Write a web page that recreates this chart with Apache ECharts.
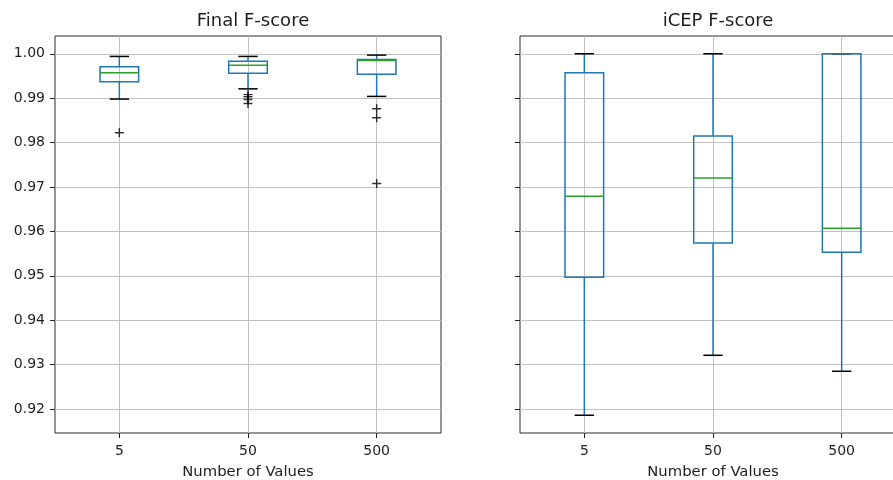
<!DOCTYPE html>
<html>
<head>
<meta charset="utf-8">
<script src="https://cdn.jsdelivr.net/npm/echarts@6/dist/echarts.min.js"></script>
<style>
  html, body { margin: 0; padding: 0; background: #fff; overflow: hidden; width: 893px; height: 480px; }
  /* canvas is a little wider than the page so the right panel runs off the edge */
  #chart { width: 910px; height: 480px; }
</style>
</head>
<body>
<div id="chart"></div>
<script>
// Categories on the x axis (number of values)
const categories = ['5', '50', '500'];

// Final F-score box statistics per category
const finalLow  = [0.9898, 0.9921, 0.9904];
const finalQ1   = [0.9937, 0.9956, 0.9954];
const finalMed  = [0.9957, 0.9974, 0.9985];
const finalQ3   = [0.9971, 0.9983, 0.9987];
const finalHigh = [0.9994, 0.9994, 0.9997];
// Final F-score outliers: [category index, value]
const finalOutliers = [
  [0, 0.9822],
  [1, 0.9908], [1, 0.9903], [1, 0.9897], [1, 0.9888],
  [2, 0.9876], [2, 0.9856], [2, 0.9708]
];

// iCEP F-score box statistics per category
const icepLow  = [0.9186, 0.9321, 0.9285];
const icepQ1   = [0.9497, 0.9574, 0.9553];
const icepMed  = [0.9679, 0.9720, 0.9607];
const icepQ3   = [0.9957, 0.9815, 1.0000];
const icepHigh = [1.0000, 1.0000, 1.0000];
const icepOutliers = [];

// Y tick values shared by both panels
const yTicks = [0.92, 0.93, 0.94, 0.95, 0.96, 0.97, 0.98, 0.99, 1.00];
const yMin = 0.9146, yMax = 1.004;

const FONT = 'DejaVu Sans';
const TEXT = '#1e1e1e';
const BOX_COLOR = '#1f77b4';
const MED_COLOR = '#2ca02c';
const CAP_COLOR = '#000000';
const LW = 1.5;

function boxData(low, q1, med, q3, high) {
  return categories.map((c, i) => [i, low[i], q1[i], med[i], q3[i], high[i]]);
}

function renderBox(params, api) {
  const i = api.value(0);
  const pLow = api.coord([i, api.value(1)]);
  const pQ1 = api.coord([i, api.value(2)]);
  const pMed = api.coord([i, api.value(3)]);
  const pQ3 = api.coord([i, api.value(4)]);
  const pHigh = api.coord([i, api.value(5)]);
  const band = api.size([1, 0])[0];
  const hw = band * 0.15;   // half box width
  const cw = hw / 2;        // half cap width
  const x = pMed[0];
  const line = (x1, y1, x2, y2, color) => ({
    type: 'line',
    shape: { x1, y1, x2, y2 },
    style: { stroke: color, lineWidth: LW, fill: null }
  });
  return {
    type: 'group',
    children: [
      line(x, pQ3[1], x, pHigh[1], BOX_COLOR),
      line(x, pQ1[1], x, pLow[1], BOX_COLOR),
      line(x - cw, pHigh[1], x + cw, pHigh[1], CAP_COLOR),
      line(x - cw, pLow[1], x + cw, pLow[1], CAP_COLOR),
      {
        type: 'rect',
        shape: { x: x - hw, y: pQ3[1], width: 2 * hw, height: pQ1[1] - pQ3[1] },
        style: { stroke: BOX_COLOR, lineWidth: LW, fill: null }
      },
      line(x - hw, pMed[1], x + hw, pMed[1], MED_COLOR)
    ]
  };
}

const plusSymbol = 'path://M4.2,0H5.8V4.2H10V5.8H5.8V10H4.2V5.8H0V4.2H4.2Z';

function xAxisFor(gridIndex) {
  return {
    type: 'category',
    gridIndex,
    data: categories,
    boundaryGap: true,
    name: 'Number of Values',
    nameLocation: 'middle',
    nameGap: 32,
    nameTextStyle: { fontFamily: FONT, fontSize: 14.8, color: TEXT },
    axisLine: { show: false },
    axisTick: { show: true, alignWithLabel: true, length: 5, lineStyle: { color: '#222', width: 1 } },
    axisLabel: { margin: 11, fontFamily: FONT, fontSize: 14, color: TEXT },
    splitLine: { show: true, alignWithLabel: true, lineStyle: { color: '#c2c2c2', width: 1 } }
  };
}

function yAxisFor(gridIndex, showLabels) {
  return {
    type: 'value',
    gridIndex,
    min: yMin,
    max: yMax,
    splitNumber: 9,
    minInterval: 0.01,
    maxInterval: 0.01,
    axisLine: { show: false },
    axisTick: { show: true, length: 5, customValues: yTicks, lineStyle: { color: '#222', width: 1 } },
    axisLabel: {
      show: showLabels,
      customValues: yTicks,
      margin: 10,
      fontFamily: FONT,
      fontSize: 14,
      color: TEXT,
      formatter: v => v.toFixed(2)
    },
    splitLine: { show: true, lineStyle: { color: '#c2c2c2', width: 1 } }
  };
}

const chart = echarts.init(document.getElementById('chart'), null, { renderer: 'canvas' });

chart.setOption({
  animation: false,
  backgroundColor: '#ffffff',
  title: [
    { text: 'Final F-score', left: 248, top: 7, textAlign: 'center',
      textStyle: { fontFamily: FONT, fontSize: 18, fontWeight: 'normal', color: TEXT } },
    { text: 'iCEP F-score', left: 713, top: 7, textAlign: 'center',
      textStyle: { fontFamily: FONT, fontSize: 18, fontWeight: 'normal', color: TEXT } }
  ],
  grid: [
    { left: 55, top: 36, width: 386, height: 397, outerBoundsMode: 'none', containLabel: false,
      show: true, borderColor: '#2a2a2a', borderWidth: 1, backgroundColor: '#fff' },
    { left: 520, top: 36, width: 386, height: 397, outerBoundsMode: 'none', containLabel: false,
      show: true, borderColor: '#2a2a2a', borderWidth: 1, backgroundColor: '#fff' }
  ],
  xAxis: [xAxisFor(0), xAxisFor(1)],
  yAxis: [yAxisFor(0, true), yAxisFor(1, false)],
  series: [
    {
      type: 'custom', name: 'Final F-score', xAxisIndex: 0, yAxisIndex: 0,
      renderItem: renderBox,
      encode: { x: 0, y: [1, 2, 3, 4, 5] },
      data: boxData(finalLow, finalQ1, finalMed, finalQ3, finalHigh),
      z: 3
    },
    {
      type: 'scatter', name: 'Final outliers', xAxisIndex: 0, yAxisIndex: 0,
      symbol: plusSymbol, symbolSize: 9,
      itemStyle: { color: '#000' },
      data: finalOutliers, z: 4
    },
    {
      type: 'custom', name: 'iCEP F-score', xAxisIndex: 1, yAxisIndex: 1,
      renderItem: renderBox,
      encode: { x: 0, y: [1, 2, 3, 4, 5] },
      data: boxData(icepLow, icepQ1, icepMed, icepQ3, icepHigh),
      z: 3
    },
    {
      type: 'scatter', name: 'iCEP outliers', xAxisIndex: 1, yAxisIndex: 1,
      symbol: plusSymbol, symbolSize: 9,
      itemStyle: { color: '#000' },
      data: icepOutliers, z: 4
    }
  ]
});
</script>
</body>
</html>
